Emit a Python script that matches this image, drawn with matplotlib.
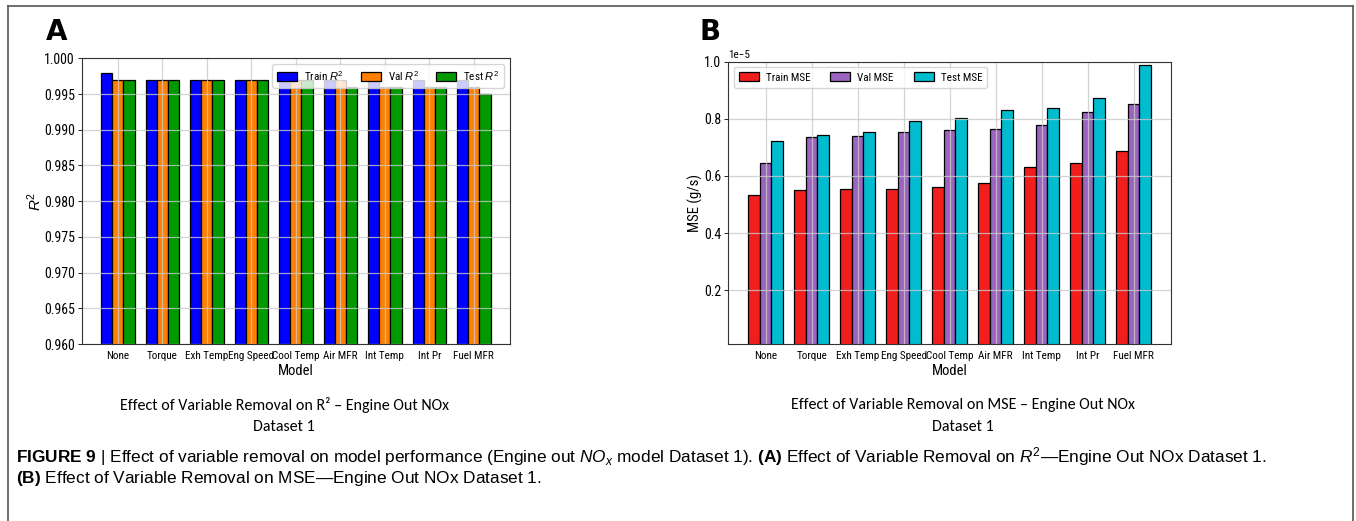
import matplotlib
matplotlib.use("Agg")
import matplotlib.pyplot as plt
import numpy as np
from matplotlib.lines import Line2D

# ---------------- data ----------------
models = ["None", "Torque", "Exh Temp", "Eng Speed", "Cool Temp",
          "Air MFR", "Int Temp", "Int Pr", "Fuel MFR"]

train_r2 = [0.998, 0.997, 0.997, 0.997, 0.997, 0.997, 0.997, 0.997, 0.997]
val_r2 = [0.997, 0.997, 0.997, 0.997, 0.997, 0.997, 0.996, 0.996, 0.996]
test_r2 = [0.997, 0.997, 0.997, 0.997, 0.997, 0.996, 0.996, 0.996, 0.995]

train_mse = [0.533e-5, 0.551e-5, 0.554e-5, 0.554e-5, 0.560e-5, 0.576e-5, 0.630e-5, 0.645e-5, 0.687e-5]
val_mse = [0.644e-5, 0.738e-5, 0.739e-5, 0.755e-5, 0.760e-5, 0.763e-5, 0.777e-5, 0.824e-5, 0.851e-5]
test_mse = [0.722e-5, 0.742e-5, 0.755e-5, 0.791e-5, 0.803e-5, 0.830e-5, 0.838e-5, 0.874e-5, 0.988e-5]

r2_labels = ["Train $R^2$", "Val $R^2$", "Test $R^2$"]
mse_labels = ["Train MSE", "Val MSE", "Test MSE"]

# ---------------- style ----------------
FONT = ["Roboto Condensed", "DejaVu Sans"]
plt.rcParams["font.family"] = FONT
plt.rcParams["mathtext.fontset"] = "custom"
plt.rcParams["mathtext.rm"] = "Liberation Sans"
plt.rcParams["mathtext.it"] = "Liberation Sans:italic"
plt.rcParams["mathtext.bf"] = "Liberation Sans:bold"

W, H = 1356, 521
fig = plt.figure(figsize=(W / 100, H / 100), dpi=100)


def fx(px):
    return px / W


def fy(py):
    return 1 - py / H


def panel(rect, series, colors, labels, ylabel, ylim, legend_loc, yticks, ytickfmt,
          ylabsize, ylabpad, colsp):
    ax = fig.add_axes(rect)
    x = np.arange(len(models))
    w = 0.25
    for i, (vals, c, lab) in enumerate(zip(series, colors, labels)):
        ax.bar(x + (i - 1) * w, vals, width=w, color=c, edgecolor="black",
               linewidth=0.9, label=lab)
    ax.set_xticks(x)
    ax.set_xticklabels(models, fontsize=8)
    ax.set_ylim(*ylim)
    ax.set_yticks(yticks)
    ax.set_yticklabels([ytickfmt(v) for v in yticks], fontsize=10)
    ax.grid(True, color="#c8c8c8", linewidth=0.9, alpha=0.8)
    ax.set_xlabel("Model", fontsize=10.5, labelpad=2)
    ax.set_ylabel(ylabel, fontsize=ylabsize, labelpad=ylabpad)
    ax.tick_params(axis="x", length=0, pad=5)
    ax.tick_params(axis="y", length=3, width=0.6, pad=2)
    for s in ax.spines.values():
        s.set_linewidth(0.8)
        s.set_color("#333333")
    ax.legend(loc=legend_loc, ncol=3, fontsize=8, handlelength=1.8,
              handleheight=0.9, handletextpad=0.63, columnspacing=colsp,
              borderpad=0.45, borderaxespad=0.5, framealpha=0.8, fancybox=True)
    return ax


axA = panel([fx(81.7), fy(344), fx(510 - 81.7), (344 - 58.3) / H],
            [train_r2, val_r2, test_r2], ["#0000ff", "#ff8000", "#009a00"],
            r2_labels, "$R^2$", (0.960, 1.000), "upper right",
            np.arange(0.960, 1.0001, 0.005), lambda v: f"{v:.3f}", 11, 0, 1.5)

axB = panel([fx(728.3), fy(344), fx(1171 - 728.3), (344 - 61.7) / H],
            [train_mse, val_mse, test_mse], ["#f21d1d", "#9c63c0", "#00bccf"],
            mse_labels, "MSE (g/s)", (0.012e-5, 1.0e-5), "upper left",
            np.array([0.2, 0.4, 0.6, 0.8, 1.0]) * 1e-5, lambda v: f"{v * 1e5:.1f}",
            10.5, 1, 1.8)
axB.text(0.0, 1.006, "1e\u22125", transform=axB.transAxes, fontsize=8,
         ha="left", va="bottom")

# panel letters
fig.text(fx(46), fy(32), "A", fontsize=20, fontweight="bold", va="center", ha="left",
         family=["DejaVu Sans"])
fig.text(fx(699), fy(32), "B", fontsize=20, fontweight="bold", va="center", ha="left",
         family=["DejaVu Sans"])

# panel sub-titles (Calibri-like)
sub_font = ["Carlito", "DejaVu Sans"]
fig.text(fx(284), fy(405), "Effect of Variable Removal on R\u00b2 \u2013 Engine Out NOx",
         family=sub_font, fontsize=11.5, ha="center", va="center")
fig.text(fx(284), fy(427), "Dataset 1", family=sub_font, fontsize=11.5, ha="center", va="center")
fig.text(fx(963), fy(405), "Effect of Variable Removal on MSE \u2013 Engine Out NOx",
         family=sub_font, fontsize=11.5, ha="center", va="center")
fig.text(fx(963), fy(427), "Dataset 1", family=sub_font, fontsize=11.5, ha="center", va="center")

# surrounding frame (open at the bottom)
frame_col = "#555555"
fig.add_artist(Line2D([fx(7.5), fx(7.5)], [fy(6), 0], color=frame_col, lw=1.2))
fig.add_artist(Line2D([fx(7.5), fx(1352.5)], [fy(6), fy(6)], color=frame_col, lw=1.2))
fig.add_artist(Line2D([fx(1352.5), fx(1352.5)], [fy(6), 0], color=frame_col, lw=1.2))

# caption
cap_font = ["Liberation Sans", "DejaVu Sans"]
cap1 = (r"$\mathbf{FIGURE\ 9}$ | Effect of variable removal on model performance "
        r"(Engine out $NO_x$ model Dataset 1). $\mathbf{(A)}$ Effect of Variable Removal on "
        r"$R^2$" + "\u2014" + "Engine Out NOx Dataset 1.")
cap2 = r"$\mathbf{(B)}$ Effect of Variable Removal on MSE" + "\u2014" + "Engine Out NOx Dataset 1."
fig.text(fx(16), fy(457), cap1, fontsize=12.4, ha="left", va="center", family=cap_font)
fig.text(fx(16), fy(479), cap2, fontsize=12.4, ha="left", va="center", family=cap_font)

fig.savefig("out.png", dpi=100)
